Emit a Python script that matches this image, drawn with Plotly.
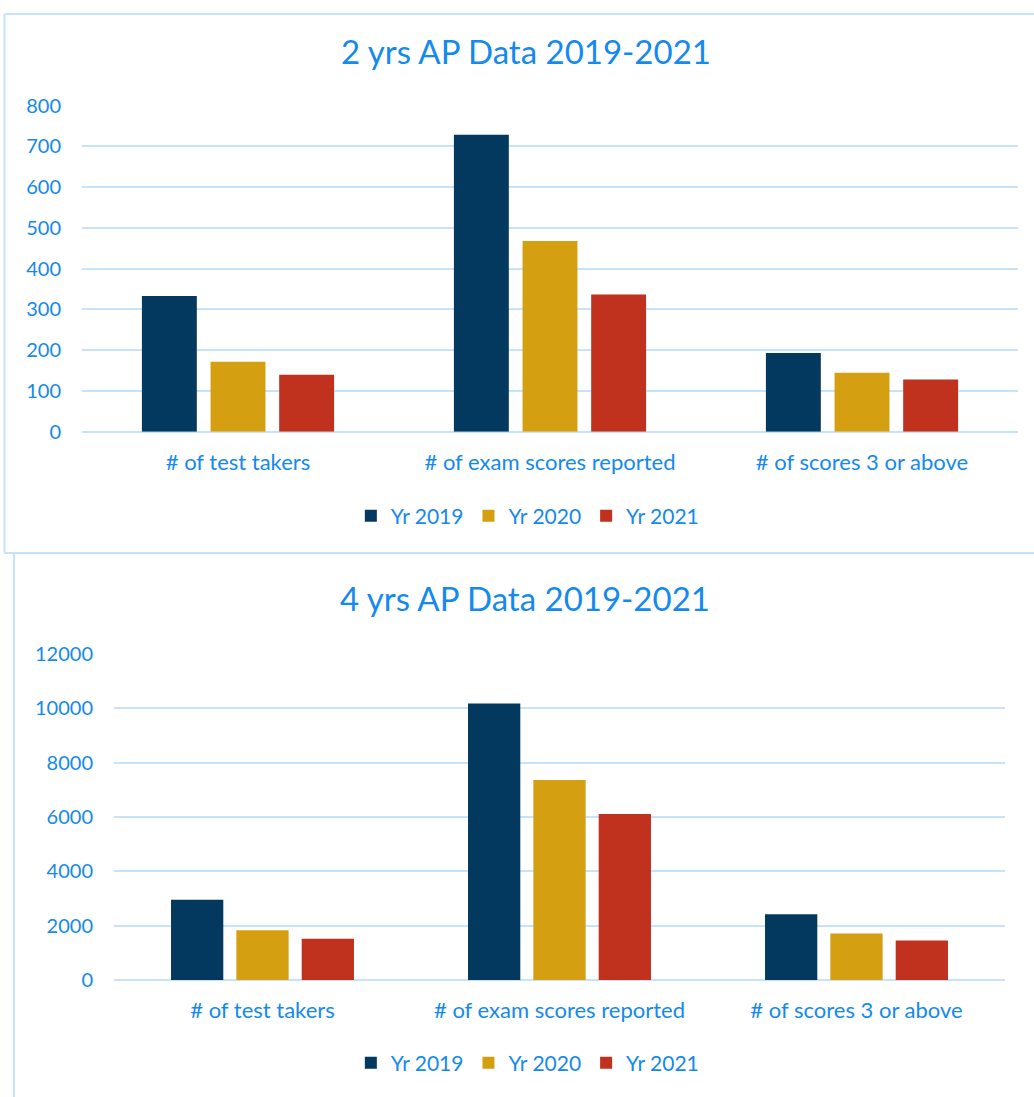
import plotly.graph_objects as go

W, H = 1034, 1097

categories = ["# of test takers", "# of exam scores reported", "# of scores 3 or above"]
series_names = ["Yr 2019", "Yr 2020", "Yr 2021"]
colors = ["#03385F", "#D4A012", "#C0321D"]

two_yr_2019 = [333, 729, 193]
two_yr_2020 = [172, 468, 145]
two_yr_2021 = [140, 337, 128]

four_yr_2019 = [2956, 10173, 2419]
four_yr_2020 = [1838, 7360, 1717]
four_yr_2021 = [1522, 6110, 1460]

y1_ticks = [0, 100, 200, 300, 400, 500, 600, 700, 800]
y2_ticks = [0, 2000, 4000, 6000, 8000, 10000, 12000]

BLUE = "#1489EE"
GRID = "#C5E3FA"
FONT = "Lato"


def px(x):
    return x / W


def py(y):
    # target screen y (px from top) -> paper fraction, compensating capture offset
    ys = (y - 12) / 0.978
    return 1 - ys / H


fig = go.Figure()
for name, vals, c in zip(series_names, [two_yr_2019, two_yr_2020, two_yr_2021], colors):
    fig.add_trace(go.Bar(x=categories, y=vals, name=name, marker=dict(color=c, line=dict(width=0)),
                         xaxis="x", yaxis="y", legend="legend"))
for name, vals, c in zip(series_names, [four_yr_2019, four_yr_2020, four_yr_2021], colors):
    fig.add_trace(go.Bar(x=categories, y=vals, name=name, marker=dict(color=c, line=dict(width=0)),
                         xaxis="x2", yaxis="y2", legend="legend2"))

ytickfont = dict(family=FONT, size=20, color=BLUE)
xtickfont = dict(family=FONT, size=22, color=BLUE)
common_y = dict(showline=False, gridcolor=GRID, gridwidth=2, zeroline=True, zerolinecolor=GRID,
                zerolinewidth=2, tickfont=ytickfont, ticks="", ticklabelstandoff=20, fixedrange=True)
common_x = dict(showline=False, showgrid=False, tickfont=xtickfont, ticks="", ticklabelstandoff=15,
                fixedrange=True)

fig.update_layout(
    width=W, height=H,
    margin=dict(l=0, r=0, t=0, b=0),
    paper_bgcolor="white", plot_bgcolor="white",
    barmode="group", bargap=0.34, bargroupgap=0.2,
    showlegend=True,
    xaxis=dict(domain=[px(82), px(1018)], anchor="y", **common_x),
    yaxis=dict(domain=[py(430.7), py(104.7)], anchor="x", range=[0, 800], tickvals=y1_ticks,
               ticktext=[str(v) for v in y1_ticks], **common_y),
    xaxis2=dict(domain=[px(114), px(1005)], anchor="y2", **common_x),
    yaxis2=dict(domain=[py(979), py(652.7)], anchor="x2", range=[0, 12000], tickvals=y2_ticks,
                ticktext=[str(v) for v in y2_ticks], **common_y),
    legend=dict(orientation="h", x=0.51, xanchor="center", y=py(515), yanchor="middle",
                font=dict(family=FONT, size=21, color=BLUE), bgcolor="rgba(0,0,0,0)"),
    legend2=dict(orientation="h", x=0.51, xanchor="center", y=py(1062), yanchor="middle",
                 font=dict(family=FONT, size=21, color=BLUE), bgcolor="rgba(0,0,0,0)"),
    annotations=[
        dict(text="2 yrs AP Data 2019-2021", x=px(526), y=py(50), xref="paper", yref="paper",
             showarrow=False, xanchor="center", yanchor="middle",
             font=dict(family=FONT, size=33, color=BLUE)),
        dict(text="4 yrs AP Data 2019-2021", x=px(525), y=py(597), xref="paper", yref="paper",
             showarrow=False, xanchor="center", yanchor="middle",
             font=dict(family=FONT, size=33, color=BLUE)),
    ],
    shapes=[
        dict(type="line", xref="paper", yref="paper", x0=px(4.5), x1=px(1040), y0=py(13), y1=py(13),
             line=dict(color=GRID, width=2)),
        dict(type="line", xref="paper", yref="paper", x0=px(4.5), x1=px(4.5), y0=py(13), y1=py(552),
             line=dict(color=GRID, width=2)),
        dict(type="line", xref="paper", yref="paper", x0=px(4.5), x1=px(1040), y0=py(552), y1=py(552),
             line=dict(color=GRID, width=2)),
        dict(type="line", xref="paper", yref="paper", x0=px(14), x1=px(14), y0=py(553), y1=-0.05,
             line=dict(color=GRID, width=2)),
    ],
)

fig.write_html(
    "out.html",
    config={"displayModeBar": False},
    post_script="document.body.style.margin='0';document.body.style.padding='0';"
                "document.body.style.overflow='hidden';document.documentElement.style.overflow='hidden';",
)
